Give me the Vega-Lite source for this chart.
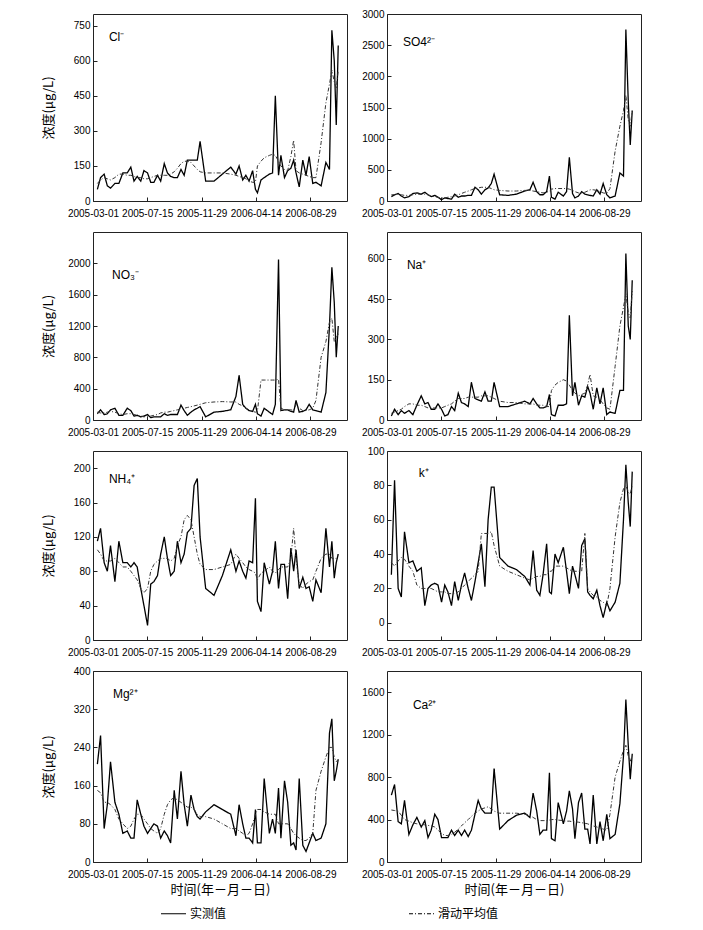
{
"$schema":"https://vega.github.io/schema/vega-lite/v6.json",
"background":"white",
"padding":{"left":41,"top":8,"right":5,"bottom":5},
"config":{
 "font":"Liberation Sans",
 "view":{"stroke":"#222","strokeWidth":1},
 "axis":{"grid":false,"domain":false,"tickColor":"#222","tickSize":-4,"labelFont":"Liberation Sans","labelFontSize":10,"labelColor":"black","titleFont":"Noto Sans CJK SC","titleFontWeight":"normal","titleFontSize":13,"titleColor":"black","labelOverlap":false},
 "axisX":{"labelPadding":11,"labelAngle":0,"labelFlush":false},
 "axisY":{"labelPadding":7,"titleX":-38,"format":"d"},
 "legend":{"labelFont":"Noto Sans CJK SC","labelFontSize":12,"labelColor":"black","symbolStrokeColor":"black","symbolStrokeWidth":1.2,"symbolSize":625,"columnPadding":179,"labelOffset":3}
},
"datasets":{
"ions":[
{"d":"2005-03-12","Cl":50,"ClA":75,"SO4":70,"SO4A":100,"NO3":80,"NO3A":100,"Na":15,"NaA":25,"NH4":115,"NH4A":105,"K":28,"KA":35,"Mg":205,"MgA":150,"Ca":630,"CaA":490},
{"d":"2005-03-20","Cl":100,"ClA":90,"SO4":100,"SO4A":100,"NO3":130,"NO3A":90,"Na":40,"NaA":30,"NH4":130,"NH4A":100,"K":83,"KA":33,"Mg":265,"MgA":145,"Ca":730,"CaA":485},
{"d":"2005-03-29","Cl":115,"ClA":100,"SO4":120,"SO4A":110,"NO3":70,"NO3A":90,"Na":20,"NaA":35,"NH4":90,"NH4A":92,"K":20,"KA":36,"Mg":70,"MgA":125,"Ca":380,"CaA":480},
{"d":"2005-04-06","Cl":65,"ClA":95,"SO4":80,"SO4A":100,"NO3":80,"NO3A":100,"Na":35,"NaA":40,"NH4":80,"NH4A":92,"K":15,"KA":38,"Mg":120,"MgA":125,"Ca":360,"CaA":440},
{"d":"2005-04-14","Cl":55,"ClA":90,"SO4":50,"SO4A":90,"NO3":130,"NO3A":110,"Na":25,"NaA":50,"NH4":110,"NH4A":92,"K":53,"KA":37,"Mg":210,"MgA":120,"Ca":580,"CaA":400},
{"d":"2005-04-25","Cl":75,"ClA":100,"SO4":70,"SO4A":90,"NO3":150,"NO3A":100,"Na":35,"NaA":60,"NH4":68,"NH4A":95,"K":35,"KA":33,"Mg":125,"MgA":110,"Ca":260,"CaA":385},
{"d":"2005-05-05","Cl":75,"ClA":115,"SO4":120,"SO4A":100,"NO3":60,"NO3A":80,"Na":20,"NaA":60,"NH4":115,"NH4A":90,"K":36,"KA":30,"Mg":100,"MgA":90,"Ca":350,"CaA":370},
{"d":"2005-05-15","Cl":120,"ClA":115,"SO4":130,"SO4A":110,"NO3":60,"NO3A":70,"Na":55,"NaA":55,"NH4":90,"NH4A":85,"K":30,"KA":22,"Mg":60,"MgA":80,"Ca":420,"CaA":360},
{"d":"2005-05-26","Cl":120,"ClA":110,"SO4":110,"SO4A":110,"NO3":150,"NO3A":80,"Na":90,"NaA":55,"NH4":90,"NH4A":85,"K":32,"KA":20,"Mg":65,"MgA":70,"Ca":330,"CaA":355},
{"d":"2005-06-04","Cl":145,"ClA":110,"SO4":140,"SO4A":110,"NO3":120,"NO3A":80,"Na":60,"NaA":50,"NH4":85,"NH4A":80,"K":10,"KA":20,"Mg":50,"MgA":75,"Ca":390,"CaA":350},
{"d":"2005-06-12","Cl":85,"ClA":105,"SO4":100,"SO4A":100,"NO3":50,"NO3A":70,"Na":65,"NaA":45,"NH4":90,"NH4A":75,"K":20,"KA":20,"Mg":50,"MgA":90,"Ca":230,"CaA":345},
{"d":"2005-06-20","Cl":105,"ClA":100,"SO4":70,"SO4A":80,"NO3":60,"NO3A":60,"Na":40,"NaA":45,"NH4":85,"NH4A":70,"K":22,"KA":20,"Mg":130,"MgA":100,"Ca":300,"CaA":340},
{"d":"2005-06-29","Cl":85,"ClA":100,"SO4":90,"SO4A":70,"NO3":40,"NO3A":50,"Na":40,"NaA":45,"NH4":60,"NH4A":60,"K":23,"KA":19,"Mg":100,"MgA":100,"Ca":450,"CaA":330},
{"d":"2005-07-07","Cl":130,"ClA":95,"SO4":60,"SO4A":60,"NO3":50,"NO3A":40,"Na":60,"NaA":45,"NH4":40,"NH4A":55,"K":22,"KA":18,"Mg":75,"MgA":90,"Ca":400,"CaA":300},
{"d":"2005-07-16","Cl":120,"ClA":95,"SO4":20,"SO4A":50,"NO3":70,"NO3A":50,"Na":40,"NaA":45,"NH4":17,"NH4A":60,"K":12,"KA":18,"Mg":60,"MgA":80,"Ca":230,"CaA":270},
{"d":"2005-07-24","Cl":80,"ClA":100,"SO4":50,"SO4A":50,"NO3":30,"NO3A":50,"Na":15,"NaA":50,"NH4":65,"NH4A":80,"K":22,"KA":18,"Mg":70,"MgA":70,"Ca":230,"CaA":250},
{"d":"2005-08-01","Cl":80,"ClA":105,"SO4":40,"SO4A":60,"NO3":40,"NO3A":60,"Na":20,"NaA":55,"NH4":68,"NH4A":88,"K":18,"KA":17,"Mg":80,"MgA":65,"Ca":230,"CaA":250},
{"d":"2005-08-10","Cl":110,"ClA":110,"SO4":30,"SO4A":70,"NO3":40,"NO3A":70,"Na":50,"NaA":60,"NH4":75,"NH4A":92,"K":10,"KA":17,"Mg":75,"MgA":60,"Ca":300,"CaA":260},
{"d":"2005-08-18","Cl":85,"ClA":110,"SO4":110,"SO4A":80,"NO3":40,"NO3A":90,"Na":35,"NaA":70,"NH4":100,"NH4A":95,"K":24,"KA":17,"Mg":50,"MgA":70,"Ca":250,"CaA":280},
{"d":"2005-08-27","Cl":160,"ClA":110,"SO4":60,"SO4A":100,"NO3":80,"NO3A":100,"Na":100,"NaA":80,"NH4":120,"NH4A":95,"K":13,"KA":18,"Mg":65,"MgA":100,"Ca":300,"CaA":310},
{"d":"2005-09-04","Cl":120,"ClA":110,"SO4":80,"SO4A":120,"NO3":60,"NO3A":100,"Na":65,"NaA":80,"NH4":95,"NH4A":95,"K":22,"KA":20,"Mg":55,"MgA":120,"Ca":250,"CaA":340},
{"d":"2005-09-12","Cl":105,"ClA":115,"SO4":80,"SO4A":140,"NO3":70,"NO3A":110,"Na":60,"NaA":80,"NH4":75,"NH4A":92,"K":29,"KA":22,"Mg":40,"MgA":130,"Ca":300,"CaA":370},
{"d":"2005-09-21","Cl":100,"ClA":125,"SO4":90,"SO4A":160,"NO3":70,"NO3A":120,"Na":50,"NaA":85,"NH4":80,"NH4A":95,"K":20,"KA":24,"Mg":150,"MgA":135,"Ca":240,"CaA":400},
{"d":"2005-09-29","Cl":100,"ClA":140,"SO4":90,"SO4A":180,"NO3":70,"NO3A":130,"Na":140,"NaA":85,"NH4":115,"NH4A":110,"K":13,"KA":26,"Mg":90,"MgA":130,"Ca":300,"CaA":430},
{"d":"2005-10-08","Cl":135,"ClA":160,"SO4":220,"SO4A":200,"NO3":190,"NO3A":140,"Na":80,"NaA":85,"NH4":90,"NH4A":120,"K":24,"KA":28,"Mg":190,"MgA":125,"Ca":450,"CaA":460},
{"d":"2005-10-16","Cl":110,"ClA":170,"SO4":180,"SO4A":210,"NO3":120,"NO3A":150,"Na":75,"NaA":85,"NH4":100,"NH4A":140,"K":35,"KA":30,"Mg":120,"MgA":120,"Ca":580,"CaA":480},
{"d":"2005-10-24","Cl":175,"ClA":170,"SO4":110,"SO4A":220,"NO3":60,"NO3A":160,"Na":70,"NaA":90,"NH4":125,"NH4A":145,"K":46,"KA":52,"Mg":75,"MgA":115,"Ca":500,"CaA":500},
{"d":"2005-11-02","Cl":175,"ClA":165,"SO4":180,"SO4A":220,"NO3":100,"NO3A":170,"Na":105,"NaA":90,"NH4":130,"NH4A":140,"K":21,"KA":52,"Mg":140,"MgA":115,"Ca":460,"CaA":510},
{"d":"2005-11-10","Cl":175,"ClA":150,"SO4":210,"SO4A":220,"NO3":130,"NO3A":180,"Na":70,"NaA":90,"NH4":180,"NH4A":120,"K":60,"KA":52,"Mg":110,"MgA":110,"Ca":460,"CaA":520},
{"d":"2005-11-18","Cl":175,"ClA":135,"SO4":280,"SO4A":200,"NO3":150,"NO3A":190,"Na":70,"NaA":85,"NH4":188,"NH4A":100,"K":79,"KA":53,"Mg":95,"MgA":100,"Ca":460,"CaA":500},
{"d":"2005-11-25","Cl":255,"ClA":125,"SO4":430,"SO4A":180,"NO3":170,"NO3A":200,"Na":140,"NaA":80,"NH4":120,"NH4A":88,"K":79,"KA":45,"Mg":90,"MgA":95,"Ca":880,"CaA":480},
{"d":"2005-12-09","Cl":85,"ClA":120,"SO4":100,"SO4A":170,"NO3":40,"NO3A":220,"Na":50,"NaA":70,"NH4":60,"NH4A":82,"K":38,"KA":33,"Mg":105,"MgA":95,"Ca":310,"CaA":460},
{"d":"2005-12-30","Cl":85,"ClA":120,"SO4":90,"SO4A":160,"NO3":100,"NO3A":230,"Na":50,"NaA":65,"NH4":52,"NH4A":82,"K":33,"KA":30,"Mg":120,"MgA":90,"Ca":390,"CaA":460},
{"d":"2006-01-20","Cl":115,"ClA":120,"SO4":110,"SO4A":160,"NO3":110,"NO3A":235,"Na":60,"NaA":65,"NH4":75,"NH4A":85,"K":31,"KA":28,"Mg":110,"MgA":80,"Ca":440,"CaA":460},
{"d":"2006-02-10","Cl":145,"ClA":115,"SO4":160,"SO4A":170,"NO3":130,"NO3A":230,"Na":70,"NaA":60,"NH4":105,"NH4A":88,"K":27,"KA":26,"Mg":100,"MgA":70,"Ca":460,"CaA":450},
{"d":"2006-02-23","Cl":115,"ClA":110,"SO4":180,"SO4A":170,"NO3":300,"NO3A":230,"Na":60,"NaA":60,"NH4":80,"NH4A":100,"K":22,"KA":25,"Mg":55,"MgA":70,"Ca":420,"CaA":440},
{"d":"2006-03-03","Cl":150,"ClA":105,"SO4":300,"SO4A":160,"NO3":570,"NO3A":200,"Na":80,"NaA":60,"NH4":92,"NH4A":95,"K":42,"KA":26,"Mg":120,"MgA":65,"Ca":650,"CaA":420},
{"d":"2006-03-12","Cl":90,"ClA":100,"SO4":150,"SO4A":150,"NO3":200,"NO3A":180,"Na":60,"NaA":55,"NH4":80,"NH4A":90,"K":19,"KA":27,"Mg":80,"MgA":60,"Ca":480,"CaA":400},
{"d":"2006-03-20","Cl":110,"ClA":95,"SO4":100,"SO4A":140,"NO3":150,"NO3A":150,"Na":45,"NaA":55,"NH4":72,"NH4A":85,"K":16,"KA":27,"Mg":50,"MgA":55,"Ca":260,"CaA":390},
{"d":"2006-03-28","Cl":85,"ClA":85,"SO4":100,"SO4A":130,"NO3":120,"NO3A":130,"Na":45,"NaA":55,"NH4":92,"NH4A":82,"K":28,"KA":28,"Mg":50,"MgA":60,"Ca":300,"CaA":390},
{"d":"2006-04-06","Cl":130,"ClA":80,"SO4":150,"SO4A":140,"NO3":110,"NO3A":110,"Na":50,"NaA":50,"NH4":90,"NH4A":80,"K":46,"KA":28,"Mg":40,"MgA":80,"Ca":300,"CaA":390},
{"d":"2006-04-13","Cl":50,"ClA":80,"SO4":400,"SO4A":160,"NO3":200,"NO3A":100,"Na":95,"NaA":50,"NH4":165,"NH4A":78,"K":18,"KA":30,"Mg":110,"MgA":100,"Ca":840,"CaA":395},
{"d":"2006-04-18","Cl":35,"ClA":150,"SO4":60,"SO4A":190,"NO3":80,"NO3A":110,"Na":20,"NaA":110,"NH4":45,"NH4A":70,"K":17,"KA":30,"Mg":40,"MgA":110,"Ca":220,"CaA":400},
{"d":"2006-04-27","Cl":90,"ClA":170,"SO4":30,"SO4A":200,"NO3":50,"NO3A":510,"Na":15,"NaA":130,"NH4":33,"NH4A":78,"K":40,"KA":33,"Mg":40,"MgA":110,"Ca":200,"CaA":400},
{"d":"2006-05-05","Cl":100,"ClA":185,"SO4":140,"SO4A":200,"NO3":150,"NO3A":510,"Na":55,"NaA":140,"NH4":90,"NH4A":80,"K":35,"KA":33,"Mg":175,"MgA":105,"Ca":560,"CaA":395},
{"d":"2006-05-18","Cl":115,"ClA":195,"SO4":80,"SO4A":200,"NO3":100,"NO3A":510,"Na":55,"NaA":150,"NH4":65,"NH4A":85,"K":44,"KA":33,"Mg":60,"MgA":100,"Ca":360,"CaA":390},
{"d":"2006-05-26","Cl":120,"ClA":200,"SO4":150,"SO4A":200,"NO3":70,"NO3A":510,"Na":60,"NaA":145,"NH4":80,"NH4A":80,"K":30,"KA":32,"Mg":90,"MgA":100,"Ca":480,"CaA":385},
{"d":"2006-06-02","Cl":450,"ClA":195,"SO4":700,"SO4A":190,"NO3":200,"NO3A":510,"Na":390,"NaA":130,"NH4":115,"NH4A":78,"K":17,"KA":31,"Mg":60,"MgA":100,"Ca":670,"CaA":385},
{"d":"2006-06-10","Cl":110,"ClA":170,"SO4":120,"SO4A":170,"NO3":2050,"NO3A":520,"Na":90,"NaA":110,"NH4":60,"NH4A":82,"K":33,"KA":30,"Mg":155,"MgA":80,"Ca":500,"CaA":380},
{"d":"2006-06-16","Cl":195,"ClA":150,"SO4":50,"SO4A":150,"NO3":120,"NO3A":150,"Na":140,"NaA":100,"NH4":88,"NH4A":85,"K":28,"KA":30,"Mg":50,"MgA":80,"Ca":220,"CaA":380},
{"d":"2006-06-25","Cl":100,"ClA":135,"SO4":80,"SO4A":130,"NO3":130,"NO3A":130,"Na":55,"NaA":90,"NH4":88,"NH4A":85,"K":20,"KA":30,"Mg":170,"MgA":80,"Ca":560,"CaA":375},
{"d":"2006-07-03","Cl":130,"ClA":130,"SO4":150,"SO4A":130,"NO3":130,"NO3A":130,"Na":90,"NaA":95,"NH4":48,"NH4A":85,"K":45,"KA":30,"Mg":125,"MgA":80,"Ca":650,"CaA":370},
{"d":"2006-07-11","Cl":140,"ClA":190,"SO4":110,"SO4A":140,"NO3":110,"NO3A":130,"Na":85,"NaA":100,"NH4":107,"NH4A":95,"K":49,"KA":52,"Mg":35,"MgA":70,"Ca":310,"CaA":365},
{"d":"2006-07-18","Cl":175,"ClA":260,"SO4":100,"SO4A":160,"NO3":100,"NO3A":120,"Na":125,"NaA":130,"NH4":80,"NH4A":130,"K":18,"KA":20,"Mg":40,"MgA":60,"Ca":310,"CaA":360},
{"d":"2006-07-24","Cl":120,"ClA":130,"SO4":90,"SO4A":180,"NO3":250,"NO3A":200,"Na":100,"NaA":170,"NH4":105,"NH4A":95,"K":16,"KA":18,"Mg":25,"MgA":55,"Ca":170,"CaA":350},
{"d":"2006-08-01","Cl":60,"ClA":120,"SO4":80,"SO4A":180,"NO3":100,"NO3A":150,"Na":40,"NaA":90,"NH4":60,"NH4A":65,"K":14,"KA":16,"Mg":175,"MgA":50,"Ca":630,"CaA":340},
{"d":"2006-08-10","Cl":175,"ClA":115,"SO4":180,"SO4A":170,"NO3":110,"NO3A":120,"Na":120,"NaA":85,"NH4":73,"NH4A":60,"K":19,"KA":15,"Mg":35,"MgA":45,"Ca":170,"CaA":330},
{"d":"2006-08-18","Cl":110,"ClA":110,"SO4":110,"SO4A":150,"NO3":130,"NO3A":120,"Na":60,"NaA":75,"NH4":60,"NH4A":65,"K":10,"KA":13,"Mg":22,"MgA":45,"Ca":380,"CaA":320},
{"d":"2006-08-26","Cl":190,"ClA":105,"SO4":280,"SO4A":130,"NO3":200,"NO3A":130,"Na":120,"NaA":60,"NH4":62,"NH4A":68,"K":3,"KA":12,"Mg":40,"MgA":50,"Ca":200,"CaA":310},
{"d":"2006-09-04","Cl":75,"ClA":100,"SO4":100,"SO4A":120,"NO3":130,"NO3A":150,"Na":20,"NaA":45,"NH4":45,"NH4A":70,"K":12,"KA":10,"Mg":60,"MgA":60,"Ca":450,"CaA":300},
{"d":"2006-09-12","Cl":80,"ClA":100,"SO4":50,"SO4A":200,"NO3":120,"NO3A":250,"Na":30,"NaA":40,"NH4":70,"NH4A":80,"K":7,"KA":20,"Mg":45,"MgA":150,"Ca":220,"CaA":450},
{"d":"2006-09-25","Cl":65,"ClA":250,"SO4":80,"SO4A":800,"NO3":100,"NO3A":800,"Na":25,"NaA":200,"NH4":55,"NH4A":95,"K":12,"KA":50,"Mg":50,"MgA":190,"Ca":260,"CaA":800},
{"d":"2006-10-07","Cl":165,"ClA":420,"SO4":450,"SO4A":1200,"NO3":350,"NO3A":1000,"Na":110,"NaA":350,"NH4":130,"NH4A":100,"K":23,"KA":70,"Mg":80,"MgA":220,"Ca":550,"CaA":950},
{"d":"2006-10-16","Cl":135,"ClA":500,"SO4":400,"SO4A":1450,"NO3":1200,"NO3A":1250,"Na":110,"NaA":420,"NH4":85,"NH4A":100,"K":60,"KA":78,"Mg":270,"MgA":240,"Ca":1000,"CaA":1050},
{"d":"2006-10-22","Cl":730,"ClA":560,"SO4":2750,"SO4A":1700,"NO3":1950,"NO3A":1300,"Na":620,"NaA":470,"NH4":115,"NH4A":95,"K":92,"KA":80,"Mg":300,"MgA":240,"Ca":1530,"CaA":1100},
{"d":"2006-10-28","Cl":600,"ClA":510,"SO4":1600,"SO4A":1300,"NO3":1500,"NO3A":1000,"Na":350,"NaA":400,"NH4":72,"NH4A":95,"K":70,"KA":76,"Mg":170,"MgA":220,"Ca":1100,"CaA":1000},
{"d":"2006-11-02","Cl":325,"ClA":480,"SO4":900,"SO4A":1200,"NO3":800,"NO3A":1050,"Na":300,"NaA":380,"NH4":90,"NH4A":95,"K":56,"KA":75,"Mg":190,"MgA":210,"Ca":780,"CaA":950},
{"d":"2006-11-07","Cl":665,"ClA":560,"SO4":1450,"SO4A":1450,"NO3":1200,"NO3A":1100,"Na":520,"NaA":480,"NH4":100,"NH4A":100,"K":88,"KA":80,"Mg":215,"MgA":215,"Ca":1020,"CaA":1000}
],
"labels":[
{"ion":"Cl","d":"2005-04-10","v":702,"t":"Cl⁻"},
{"ion":"SO4","d":"2005-04-10","v":2550,"t":"SO4²⁻"},
{"ion":"NO3","d":"2005-04-18","v":1855,"t":"NO₃⁻"},
{"ion":"Na","d":"2005-04-20","v":576,"t":"Na⁺"},
{"ion":"NH4","d":"2005-04-10","v":187,"t":"NH₄⁺"},
{"ion":"K","d":"2005-05-20","v":87,"t":"k⁺"},
{"ion":"Mg","d":"2005-04-20","v":352,"t":"Mg²⁺"},
{"ion":"Ca","d":"2005-05-05","v":1477,"t":"Ca²⁺"}
]
},
"columns":2,
"align":"each",
"bounds":"flush",
"spacing":{"row":31,"column":40},
"concat":[
{"width":254,"height":187,"data":{"name":"ions"},"layer":[
 {"mark":{"type":"line","color":"black","strokeWidth":1.3},"encoding":{
  "x":{"field":"d","type":"temporal","scale":{"type":"utc","domain":[{"year":2005,"month":3,"date":1,"utc":true},{"year":2006,"month":11,"date":29,"utc":true}]},"axis":{"values":[{"year":2005,"month":3,"date":1,"utc":true},{"year":2005,"month":7,"date":15,"utc":true},{"year":2005,"month":11,"date":29,"utc":true},{"year":2006,"month":4,"date":14,"utc":true},{"year":2006,"month":8,"date":29,"utc":true}],"format":"%Y-%m-%d","title":null,"tickCount":10}},
  "y":{"field":"Cl","type":"quantitative","scale":{"domain":[0,800]},"axis":{"values":[0,150,300,450,600,750],"tickCount":12,"title":"浓度(μg/L)"}},
  "strokeDash":{"datum":"实测值","type":"nominal","scale":{"domain":["实测值","滑动平均值"],"range":[[1,0],[4,2,1,2]]},"legend":{"orient":"none","legendX":67,"legendY":886,"direction":"horizontal","title":null}}}},
 {"mark":{"type":"line","color":"#333","strokeWidth":1},"encoding":{"x":{"field":"d","type":"temporal"},"y":{"field":"ClA","type":"quantitative"},"strokeDash":{"datum":"滑动平均值","type":"nominal"}}},
 {"data":{"name":"labels"},"transform":[{"filter":"datum.ion==='Cl'"}],"mark":{"type":"text","align":"left","font":"Liberation Sans","fontSize":12,"color":"black"},"encoding":{"x":{"field":"d","type":"temporal"},"y":{"field":"v","type":"quantitative"},"text":{"field":"t","type":"nominal"}}}
]},
{"width":254,"height":187,"data":{"name":"ions"},"layer":[
 {"mark":{"type":"line","color":"black","strokeWidth":1.3},"encoding":{
  "x":{"field":"d","type":"temporal","scale":{"type":"utc","domain":[{"year":2005,"month":3,"date":1,"utc":true},{"year":2006,"month":11,"date":29,"utc":true}]},"axis":{"values":[{"year":2005,"month":3,"date":1,"utc":true},{"year":2005,"month":7,"date":15,"utc":true},{"year":2005,"month":11,"date":29,"utc":true},{"year":2006,"month":4,"date":14,"utc":true},{"year":2006,"month":8,"date":29,"utc":true}],"format":"%Y-%m-%d","title":null,"tickCount":10}},
  "y":{"field":"SO4","type":"quantitative","scale":{"domain":[0,3000]},"axis":{"values":[0,500,1000,1500,2000,2500,3000],"tickCount":12,"title":null}},
  "strokeDash":{"datum":"实测值","type":"nominal"}}},
 {"mark":{"type":"line","color":"#333","strokeWidth":1},"encoding":{"x":{"field":"d","type":"temporal"},"y":{"field":"SO4A","type":"quantitative"},"strokeDash":{"datum":"滑动平均值","type":"nominal"}}},
 {"data":{"name":"labels"},"transform":[{"filter":"datum.ion==='SO4'"}],"mark":{"type":"text","align":"left","font":"Liberation Sans","fontSize":12,"color":"black"},"encoding":{"x":{"field":"d","type":"temporal"},"y":{"field":"v","type":"quantitative"},"text":{"field":"t","type":"nominal"}}}
]},
{"width":254,"height":188,"data":{"name":"ions"},"layer":[
 {"mark":{"type":"line","color":"black","strokeWidth":1.3},"encoding":{
  "x":{"field":"d","type":"temporal","scale":{"type":"utc","domain":[{"year":2005,"month":3,"date":1,"utc":true},{"year":2006,"month":11,"date":29,"utc":true}]},"axis":{"values":[{"year":2005,"month":3,"date":1,"utc":true},{"year":2005,"month":7,"date":15,"utc":true},{"year":2005,"month":11,"date":29,"utc":true},{"year":2006,"month":4,"date":14,"utc":true},{"year":2006,"month":8,"date":29,"utc":true}],"format":"%Y-%m-%d","title":null,"tickCount":10}},
  "y":{"field":"NO3","type":"quantitative","scale":{"domain":[0,2250]},"axis":{"values":[0,400,800,1200,1600,2000],"tickCount":12,"title":"浓度(μg/L)"}},
  "strokeDash":{"datum":"实测值","type":"nominal"}}},
 {"mark":{"type":"line","color":"#333","strokeWidth":1},"encoding":{"x":{"field":"d","type":"temporal"},"y":{"field":"NO3A","type":"quantitative"},"strokeDash":{"datum":"滑动平均值","type":"nominal"}}},
 {"data":{"name":"labels"},"transform":[{"filter":"datum.ion==='NO3'"}],"mark":{"type":"text","align":"left","font":"Liberation Sans","fontSize":12,"color":"black"},"encoding":{"x":{"field":"d","type":"temporal"},"y":{"field":"v","type":"quantitative"},"text":{"field":"t","type":"nominal"}}}
]},
{"width":254,"height":188,"data":{"name":"ions"},"layer":[
 {"mark":{"type":"line","color":"black","strokeWidth":1.3},"encoding":{
  "x":{"field":"d","type":"temporal","scale":{"type":"utc","domain":[{"year":2005,"month":3,"date":1,"utc":true},{"year":2006,"month":11,"date":29,"utc":true}]},"axis":{"values":[{"year":2005,"month":3,"date":1,"utc":true},{"year":2005,"month":7,"date":15,"utc":true},{"year":2005,"month":11,"date":29,"utc":true},{"year":2006,"month":4,"date":14,"utc":true},{"year":2006,"month":8,"date":29,"utc":true}],"format":"%Y-%m-%d","title":null,"tickCount":10}},
  "y":{"field":"Na","type":"quantitative","scale":{"domain":[0,700]},"axis":{"values":[0,150,300,450,600],"tickCount":12,"title":null}},
  "strokeDash":{"datum":"实测值","type":"nominal"}}},
 {"mark":{"type":"line","color":"#333","strokeWidth":1},"encoding":{"x":{"field":"d","type":"temporal"},"y":{"field":"NaA","type":"quantitative"},"strokeDash":{"datum":"滑动平均值","type":"nominal"}}},
 {"data":{"name":"labels"},"transform":[{"filter":"datum.ion==='Na'"}],"mark":{"type":"text","align":"left","font":"Liberation Sans","fontSize":12,"color":"black"},"encoding":{"x":{"field":"d","type":"temporal"},"y":{"field":"v","type":"quantitative"},"text":{"field":"t","type":"nominal"}}}
]},
{"width":254,"height":189,"data":{"name":"ions"},"layer":[
 {"mark":{"type":"line","color":"black","strokeWidth":1.3},"encoding":{
  "x":{"field":"d","type":"temporal","scale":{"type":"utc","domain":[{"year":2005,"month":3,"date":1,"utc":true},{"year":2006,"month":11,"date":29,"utc":true}]},"axis":{"values":[{"year":2005,"month":3,"date":1,"utc":true},{"year":2005,"month":7,"date":15,"utc":true},{"year":2005,"month":11,"date":29,"utc":true},{"year":2006,"month":4,"date":14,"utc":true},{"year":2006,"month":8,"date":29,"utc":true}],"format":"%Y-%m-%d","title":null,"tickCount":10}},
  "y":{"field":"NH4","type":"quantitative","scale":{"domain":[0,210]},"axis":{"values":[0,40,80,120,160,200],"tickCount":12,"title":"浓度(μg/L)"}},
  "strokeDash":{"datum":"实测值","type":"nominal"}}},
 {"mark":{"type":"line","color":"#333","strokeWidth":1},"encoding":{"x":{"field":"d","type":"temporal"},"y":{"field":"NH4A","type":"quantitative"},"strokeDash":{"datum":"滑动平均值","type":"nominal"}}},
 {"data":{"name":"labels"},"transform":[{"filter":"datum.ion==='NH4'"}],"mark":{"type":"text","align":"left","font":"Liberation Sans","fontSize":12,"color":"black"},"encoding":{"x":{"field":"d","type":"temporal"},"y":{"field":"v","type":"quantitative"},"text":{"field":"t","type":"nominal"}}}
]},
{"width":254,"height":189,"data":{"name":"ions"},"layer":[
 {"mark":{"type":"line","color":"black","strokeWidth":1.3},"encoding":{
  "x":{"field":"d","type":"temporal","scale":{"type":"utc","domain":[{"year":2005,"month":3,"date":1,"utc":true},{"year":2006,"month":11,"date":29,"utc":true}]},"axis":{"values":[{"year":2005,"month":3,"date":1,"utc":true},{"year":2005,"month":7,"date":15,"utc":true},{"year":2005,"month":11,"date":29,"utc":true},{"year":2006,"month":4,"date":14,"utc":true},{"year":2006,"month":8,"date":29,"utc":true}],"format":"%Y-%m-%d","title":null,"tickCount":10}},
  "y":{"field":"K","type":"quantitative","scale":{"domain":[-10,100]},"axis":{"values":[0,20,40,60,80,100],"tickCount":12,"title":null}},
  "strokeDash":{"datum":"实测值","type":"nominal"}}},
 {"mark":{"type":"line","color":"#333","strokeWidth":1},"encoding":{"x":{"field":"d","type":"temporal"},"y":{"field":"KA","type":"quantitative"},"strokeDash":{"datum":"滑动平均值","type":"nominal"}}},
 {"data":{"name":"labels"},"transform":[{"filter":"datum.ion==='K'"}],"mark":{"type":"text","align":"left","font":"Liberation Sans","fontSize":12,"color":"black"},"encoding":{"x":{"field":"d","type":"temporal"},"y":{"field":"v","type":"quantitative"},"text":{"field":"t","type":"nominal"}}}
]},
{"width":254,"height":191,"data":{"name":"ions"},"layer":[
 {"mark":{"type":"line","color":"black","strokeWidth":1.3},"encoding":{
  "x":{"field":"d","type":"temporal","scale":{"type":"utc","domain":[{"year":2005,"month":3,"date":1,"utc":true},{"year":2006,"month":11,"date":29,"utc":true}]},"axis":{"values":[{"year":2005,"month":3,"date":1,"utc":true},{"year":2005,"month":7,"date":15,"utc":true},{"year":2005,"month":11,"date":29,"utc":true},{"year":2006,"month":4,"date":14,"utc":true},{"year":2006,"month":8,"date":29,"utc":true}],"format":"%Y-%m-%d","title":"时间(年－月－日)","tickCount":10}},
  "y":{"field":"Mg","type":"quantitative","scale":{"domain":[0,400]},"axis":{"values":[0,80,160,240,320,400],"tickCount":12,"title":"浓度(μg/L)"}},
  "strokeDash":{"datum":"实测值","type":"nominal"}}},
 {"mark":{"type":"line","color":"#333","strokeWidth":1},"encoding":{"x":{"field":"d","type":"temporal"},"y":{"field":"MgA","type":"quantitative"},"strokeDash":{"datum":"滑动平均值","type":"nominal"}}},
 {"data":{"name":"labels"},"transform":[{"filter":"datum.ion==='Mg'"}],"mark":{"type":"text","align":"left","font":"Liberation Sans","fontSize":12,"color":"black"},"encoding":{"x":{"field":"d","type":"temporal"},"y":{"field":"v","type":"quantitative"},"text":{"field":"t","type":"nominal"}}}
]},
{"width":254,"height":191,"data":{"name":"ions"},"layer":[
 {"mark":{"type":"line","color":"black","strokeWidth":1.3},"encoding":{
  "x":{"field":"d","type":"temporal","scale":{"type":"utc","domain":[{"year":2005,"month":3,"date":1,"utc":true},{"year":2006,"month":11,"date":29,"utc":true}]},"axis":{"values":[{"year":2005,"month":3,"date":1,"utc":true},{"year":2005,"month":7,"date":15,"utc":true},{"year":2005,"month":11,"date":29,"utc":true},{"year":2006,"month":4,"date":14,"utc":true},{"year":2006,"month":8,"date":29,"utc":true}],"format":"%Y-%m-%d","title":"时间(年－月－日)","tickCount":10}},
  "y":{"field":"Ca","type":"quantitative","scale":{"domain":[0,1700]},"axis":{"values":[0,400,800,1200,1600],"tickCount":12,"title":null}},
  "strokeDash":{"datum":"实测值","type":"nominal"}}},
 {"mark":{"type":"line","color":"#333","strokeWidth":1},"encoding":{"x":{"field":"d","type":"temporal"},"y":{"field":"CaA","type":"quantitative"},"strokeDash":{"datum":"滑动平均值","type":"nominal"}}},
 {"data":{"name":"labels"},"transform":[{"filter":"datum.ion==='Ca'"}],"mark":{"type":"text","align":"left","font":"Liberation Sans","fontSize":12,"color":"black"},"encoding":{"x":{"field":"d","type":"temporal"},"y":{"field":"v","type":"quantitative"},"text":{"field":"t","type":"nominal"}}}
]}
]
}
